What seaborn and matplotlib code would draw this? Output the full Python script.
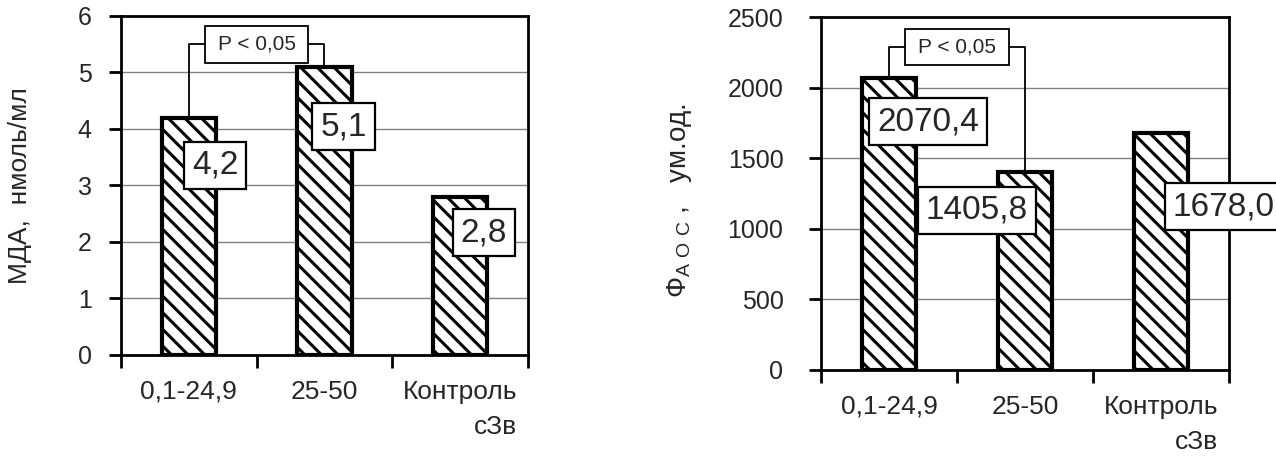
import numpy as np
import matplotlib
matplotlib.use("Agg")
import matplotlib.pyplot as plt
from matplotlib.patches import Rectangle
import seaborn as sns

# ================================
# DATA
# ================================
groups = ["0,1-24,9", "25-50", "Контроль\nсЗв"]

mda = [4.2, 5.1, 2.8]
mda_labels = ["4,2", "5,1", "2,8"]

faos = [2070.4, 1405.8, 1678.0]
faos_labels = ["2070,4", "1405,8", "1678,0"]

p_text = "P < 0,05"

# ================================
# STYLE
# ================================
sns.set_theme(style="white")
plt.rcParams["font.family"] = ["Liberation Sans", "DejaVu Sans"]
plt.rcParams["mathtext.fontset"] = "custom"
plt.rcParams["mathtext.rm"] = "Liberation Sans"
plt.rcParams["hatch.linewidth"] = 2.2
plt.rcParams["hatch.color"] = "black"


def draw_panel(ax, values, labels, ymax, ystep, offsets, p_y, p_h, ytick_pad):
    sns.barplot(x=groups, y=values, ax=ax, color="white", edgecolor="black",
                linewidth=3, width=0.40, saturation=1, zorder=3)
    for bar in ax.patches:
        bar.set_hatch("\\\\")

    ax.set_xlim(-0.5, 2.5)
    ax.set_ylim(0, ymax)
    ax.set_yticks(np.arange(0, ymax + ystep / 2, ystep))
    ax.yaxis.grid(True, color="#808080", linewidth=1)
    ax.set_axisbelow(True)

    for s in ax.spines.values():
        s.set_color("black")
        s.set_linewidth(2)
        s.set_visible(True)

    # category labels without marks, marks at the boundaries
    ax.set_xticks(range(len(groups)))
    ax.set_xticklabels(groups, fontsize=19, linespacing=1.6)
    ax.set_xticks([-0.5, 0.5, 1.5, 2.5], minor=True)
    ax.tick_params(axis="x", which="major", length=0, pad=18)
    ax.tick_params(axis="x", which="minor", direction="out", length=9,
                   width=2, color="black", bottom=True)
    ax.tick_params(axis="y", direction="out", length=9, width=2,
                   color="black", left=True, labelsize=18, pad=ytick_pad)
    ax.get_xticklabels()[-1].set_multialignment("right")
    ax.set_xlabel("")

    # value boxes
    for i, (v, lab) in enumerate(zip(values, labels)):
        dx, dy = offsets[i]
        ax.text(i + dx, v + dy, lab, ha="center", va="center", fontsize=24,
                zorder=6, clip_on=False,
                bbox=dict(boxstyle="square,pad=0.24", facecolor="white",
                          edgecolor="black", linewidth=1.6))

    # significance bracket
    ax.plot([0, 0, 0.12], [values[0], p_y, p_y], color="black", lw=1.3, zorder=4)
    ax.plot([0.88, 1, 1], [p_y, p_y, values[1]], color="black", lw=1.3, zorder=4)
    ax.add_patch(Rectangle((0.12, p_y - p_h / 2), 0.76, p_h, facecolor="white",
                           edgecolor="black", linewidth=1.3, zorder=5))
    ax.text(0.5, p_y, p_text, ha="center", va="center", fontsize=15, zorder=6)


fig = plt.figure(figsize=(12.76, 4.59), dpi=100)
ax1 = fig.add_axes([0.0948, 0.2266, 0.319, 0.7386])
ax2 = fig.add_axes([0.6434, 0.1939, 0.3198, 0.769])

# ================================
# LEFT - MDA
# ================================
draw_panel(ax1, mda, mda_labels, 6, 1,
           [(0.195, -0.84), (0.14, -1.06), (0.175, -0.64)],
           5.5, 0.65, 12)
ax1.set_ylabel("МДА,  нмоль/мл", fontsize=19)
ax1.yaxis.set_label_coords(-0.218, 0.5)

# ================================
# RIGHT - FAOS
# ================================
draw_panel(ax2, faos, faos_labels, 2500, 500,
           [(0.29, -312), (-0.356, -273), (0.46, -521)],
           2288, 255, 18)
ax2.set_ylabel(r"$\mathregular{Ф_{А\ О\ С}}$ ,   ум.од.", fontsize=20)
ax2.yaxis.set_label_coords(-0.312, 0.48)

fig.savefig("out.png", dpi=100)
